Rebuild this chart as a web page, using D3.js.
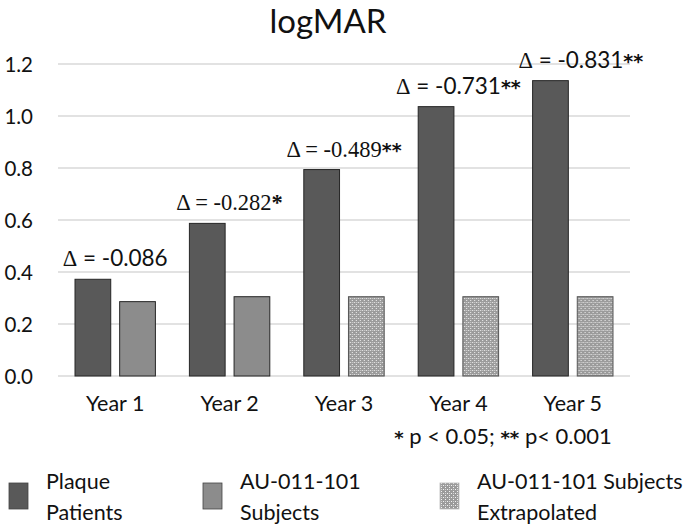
<!DOCTYPE html>
<html>
<head>
<meta charset="utf-8">
<script src="https://cdn.jsdelivr.net/npm/d3@7/dist/d3.min.js"></script>
<style>
  body { margin: 0; background: #fff; }
  svg text { fill: #111; }
</style>
</head>
<body>
<div class="graph"></div>
<script>
// Datos
const years = ["Year 1", "Year 2", "Year 3", "Year 4", "Year 5"];
const plaque = [0.372, 0.587, 0.794, 1.036, 1.136];
const subjects = [0.286, 0.305, null, null, null];
const extrapolated = [null, null, 0.305, 0.305, 0.305];
const deltas = ["-0.086", "-0.282", "-0.489", "-0.731", "-0.831"];
const stars = ["", "*", "**", "**", "**"];
const yTicks = [0, 0.2, 0.4, 0.6, 0.8, 1.0, 1.2];
const legendLabels = [["Plaque", "Patients"], ["AU-011-101", "Subjects"], ["AU-011-101 Subjects", "Extrapolated"]];

const sans = "Lato, 'Open Sans', sans-serif";
const serif = "'Liberation Serif', 'DejaVu Serif', serif";
const starSans = "'DejaVu Sans', sans-serif";
// tipo de letra del número en cada etiqueta (como en el original)
const numFont = [sans, serif, serif, sans, sans];
const starFont = [starSans, serif, starSans, starSans, starSans];

const width = 700, height = 525;
const svg = d3.select(".graph").append("svg")
    .attr("width", width).attr("height", height);

// patrón para las barras extrapoladas
const defs = svg.append("defs");
const pat = defs.append("pattern").attr("id", "dots")
    .attr("patternUnits", "userSpaceOnUse").attr("width", 4).attr("height", 4);
pat.append("rect").attr("width", 4).attr("height", 4).attr("fill", "#9b9b9b");
pat.append("rect").attr("x", 1).attr("y", 0).attr("width", 1).attr("height", 1).attr("fill", "#f2f2f2");
pat.append("rect").attr("x", 3).attr("y", 2).attr("width", 1).attr("height", 1).attr("fill", "#f2f2f2");
pat.append("rect").attr("x", 1).attr("y", 2).attr("width", 1).attr("height", 1).attr("fill", "#d0d0d0");

// Escalas
const x0 = d3.scaleBand().domain(years).range([58, 630]);
const x1 = d3.scaleBand().domain(["a", "b"])
    .range([17, x0.bandwidth() - 17]).paddingInner(0.2);
const y = d3.scaleLinear().domain([0, 1.2]).range([376, 64]);

// Líneas de cuadrícula
svg.append("g").selectAll("line").data(yTicks).enter().append("line")
    .attr("x1", 58).attr("x2", 630)
    .attr("y1", d => y(d)).attr("y2", d => y(d))
    .attr("stroke", "#d9d9d9").attr("stroke-width", 1.3);

// Eje Y
const yAxis = svg.append("g").attr("transform", "translate(33,0)")
    .call(d3.axisLeft(y).tickValues(yTicks).tickFormat(d3.format(".1f")).tickSize(0).tickPadding(0));
yAxis.select(".domain").remove();
yAxis.selectAll("text").attr("font-family", sans).attr("font-size", 20.5).attr("dy", "0.35em");

// Eje X
const xAxis = svg.append("g").attr("transform", "translate(0,376)")
    .call(d3.axisBottom(x0).tickSize(0).tickPadding(0));
xAxis.select(".domain").remove();
xAxis.selectAll("text").attr("font-family", sans).attr("font-size", 21.5).attr("dy", 0).attr("y", 35);

// Barras
const groups = svg.append("g").selectAll("g").data(years).enter().append("g")
    .attr("transform", d => `translate(${x0(d)},0)`);

groups.append("rect")
    .attr("x", x1("a")).attr("width", x1.bandwidth())
    .attr("y", (d, i) => y(plaque[i]))
    .attr("height", (d, i) => y(0) - y(plaque[i]))
    .attr("fill", "#595959").attr("stroke", "#262626").attr("stroke-width", 1);

groups.filter((d, i) => subjects[i] != null).append("rect")
    .attr("x", x1("b")).attr("width", x1.bandwidth())
    .attr("y", d => y(subjects[years.indexOf(d)]))
    .attr("height", d => y(0) - y(subjects[years.indexOf(d)]))
    .attr("fill", "#8c8c8c").attr("stroke", "#262626").attr("stroke-width", 1);

groups.filter((d, i) => extrapolated[i] != null).append("rect")
    .attr("x", x1("b")).attr("width", x1.bandwidth())
    .attr("y", d => y(extrapolated[years.indexOf(d)]))
    .attr("height", d => y(0) - y(extrapolated[years.indexOf(d)]))
    .attr("fill", "url(#dots)").attr("stroke", "#555").attr("stroke-width", 1);

// Etiquetas de diferencia
groups.append("text")
    .attr("x", (d, i) => x0.bandwidth() / 2 + (i === 4 ? 8 : 0))
    .attr("y", (d, i) => y(plaque[i]) - 13)
    .attr("text-anchor", "middle")
    .attr("font-size", 22.5)
    .each(function (d, i) {
        const t = d3.select(this);
        t.append("tspan").attr("font-family", serif).text("\u0394");
        t.append("tspan").attr("font-family", numFont[i]).text(" = " + deltas[i]);
        if (stars[i]) t.append("tspan").attr("font-family", starFont[i]).attr("font-weight", "bold")
            .attr("font-size", starFont[i] === serif ? 22.5 : 19).text(stars[i]);
    });

// Título
svg.append("text").attr("x", 328).attr("y", 33).attr("text-anchor", "middle")
    .attr("font-family", sans).attr("font-size", 33).text("logMAR");

// Nota
const nota = svg.append("text").attr("x", 503).attr("y", 444).attr("text-anchor", "middle")
    .attr("font-family", sans).attr("font-size", 22);
nota.append("tspan").attr("font-family", starSans).attr("font-weight", "bold").attr("font-size", 18).text("*");
nota.append("tspan").text(" p < 0.05; ");
nota.append("tspan").attr("font-family", starSans).attr("font-weight", "bold").attr("font-size", 18).text("**");
nota.append("tspan").text(" p< 0.001");

// Leyenda
const legendX = [9, 203, 440];
const legendFill = ["#595959", "#8c8c8c", "url(#dots)"];
const leg = svg.append("g").selectAll("g").data(legendLabels).enter().append("g")
    .attr("transform", (d, i) => `translate(${legendX[i]},483)`);
leg.append("rect").attr("width", 19).attr("height", 26)
    .attr("fill", (d, i) => legendFill[i])
    .attr("stroke", (d, i) => i === 2 ? "#bbb" : "#444").attr("stroke-width", 0.8);
leg.append("text")
    .attr("font-family", sans).attr("font-size", 21.5)
    .each(function (d) {
        const t = d3.select(this);
        t.append("tspan").attr("x", 37).attr("y", 6).text(d[0]);
        t.append("tspan").attr("x", 37).attr("y", 37).text(d[1]);
    });
</script>
</body>
</html>
